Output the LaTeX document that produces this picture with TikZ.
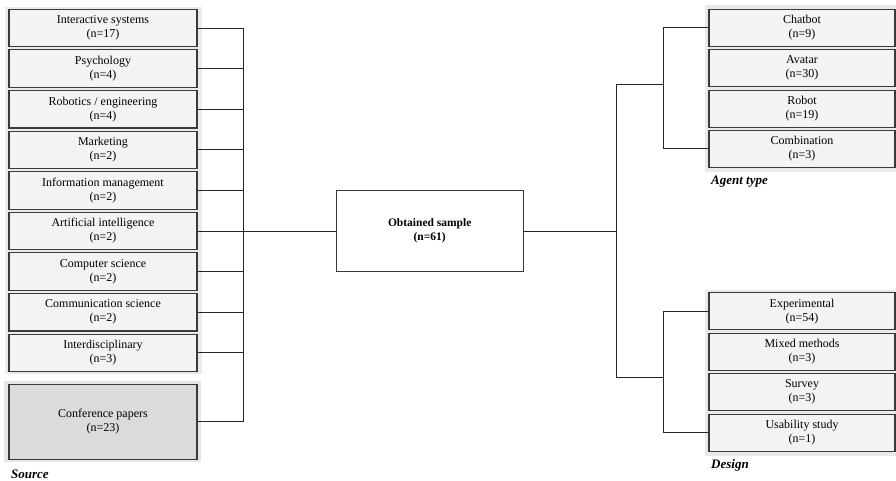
\documentclass[tikz,border=0pt]{standalone}
\usepackage{fontspec}
\setmainfont{Liberation Serif}
\definecolor{boxfill}{HTML}{F3F3F3}
\definecolor{panelfill}{HTML}{EAEAEA}
\definecolor{conffill}{HTML}{DBDBDB}
\definecolor{confpanel}{HTML}{E6E6E6}
\definecolor{boxline}{HTML}{3A3A3A}

\begin{document}
\begin{tikzpicture}[x = 1pt, y = -1pt,
    catbox/.style = {draw = boxline, fill = boxfill, line width = 1.1pt, minimum width = 188pt,
        minimum height = 37.5pt, inner sep = 0pt, align = center, font = \fontsize{12}{14}\selectfont},
    link/.style = {draw = black!85, line width = 0.9pt},
    grplabel/.style = {anchor = west, inner sep = 0pt, font = \fontsize{13}{15}\selectfont\bfseries\itshape}]

            \useasboundingbox (0, 0) rectangle (896, 480);

            % background panels
            \fill [panelfill] (5, 7) rectangle (202, 374);
            \fill [confpanel] (4, 381) rectangle (201, 462);
            \fill [panelfill] (705, 5) rectangle (896, 172);
            \fill [panelfill] (705, 290) rectangle (896, 456);

            % source
            \node [catbox] (inter) at (103, 28) {Interactive systems\\(n=17)};
            \node [catbox] (psych) at (103, 68.6) {Psychology\\(n=4)};
            \node [catbox] (robeng) at (103, 109.2) {Robotics / engineering\\(n=4)};
            \node [catbox] (market) at (103, 149.8) {Marketing\\(n=2)};
            \node [catbox] (infman) at (103, 190.4) {Information management\\(n=2)};
            \node [catbox] (artint) at (103, 231) {Artificial intelligence\\(n=2)};
            \node [catbox] (compsci) at (103, 271.6) {Computer science\\(n=2)};
            \node [catbox] (commsci) at (103, 312.2) {Communication science\\(n=2)};
            \node [catbox] (interdis) at (103, 352.8) {Interdisciplinary\\(n=3)};
            \node [catbox, fill = conffill, minimum height = 75pt] (conf) at (103, 421.7) {Conference papers\\(n=23)};
            \node [grplabel] (source) at (11, 474) {Source};

            % sample
            \node [draw = boxline, fill = white, line width = 1.1pt, minimum width = 187pt, minimum height = 81pt,
                align = center, font = \fontsize{11.5}{14}\selectfont\bfseries] (sample) at (429.7, 231) {Obtained sample\\(n=61)};

            % agent type
            \node [catbox, minimum width = 186pt, minimum height = 37pt] (chat) at (802, 27.7) {Chatbot\\(n=9)};
            \node [catbox, minimum width = 186pt, minimum height = 37pt] (avatar) at (802, 68.2) {Avatar\\(n=30)};
            \node [catbox, minimum width = 186pt, minimum height = 37pt] (robot) at (802, 108.8) {Robot\\(n=19)};
            \node [catbox, minimum width = 186pt, minimum height = 37pt] (combi) at (802, 148.8) {Combination\\(n=3)};
            \node [grplabel] (agent) at (711, 182) {Agent type};

            % design
            \node [catbox, minimum width = 186pt, minimum height = 37pt] (exper) at (802, 311.3) {Experimental\\(n=54)};
            \node [catbox, minimum width = 186pt, minimum height = 37pt] (mixed) at (802, 352) {Mixed methods\\(n=3)};
            \node [catbox, minimum width = 186pt, minimum height = 37pt] (survey) at (802, 392.2) {Survey\\(n=3)};
            \node [catbox, minimum width = 186pt, minimum height = 37pt] (usab) at (802, 432.7) {Usability study\\(n=1)};
            \node [grplabel] (design) at (711, 465) {Design};

            \coordinate (ls) at (243, 0);
            \coordinate (rs) at (616, 0);
            \coordinate (agj) at (663, 84);
            \coordinate (dsj) at (663, 377);

            \draw [link] (inter.east) -- (inter.east -| ls) -- (conf.east -| ls) -- (conf.east);
            \draw [link] (psych.east) -- (psych.east -| ls);
            \draw [link] (robeng.east) -- (robeng.east -| ls);
            \draw [link] (market.east) -- (market.east -| ls);
            \draw [link] (infman.east) -- (infman.east -| ls);
            \draw [link] (artint.east) -- (sample.west);
            \draw [link] (compsci.east) -- (compsci.east -| ls);
            \draw [link] (commsci.east) -- (commsci.east -| ls);
            \draw [link] (interdis.east) -- (interdis.east -| ls);

            \draw [link] (sample.east) -- (sample.east -| rs);
            \draw [link] (agj) -- (agj -| rs) -- (dsj -| rs) -- (dsj);
            \draw [link] (chat.west) -| (agj) |- (combi.west);
            \draw [link] (exper.west) -| (dsj) |- (usab.west);
        \end{tikzpicture}
\end{document}
